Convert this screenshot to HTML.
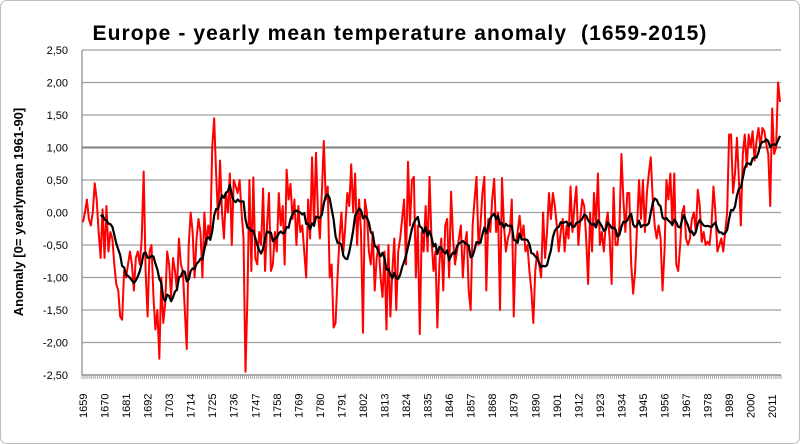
<!DOCTYPE html>
<html><head><meta charset="utf-8"><style>
body{margin:0;background:#fff}
svg{display:block;font-family:"Liberation Sans",sans-serif}
</style></head><body>
<svg id="chart" width="800" height="444" viewBox="0 0 800 444">
<rect x="0.5" y="0.5" width="799" height="443" rx="6" fill="#fff" stroke="#bdbdbd"/>
<text x="400" y="40" text-anchor="middle" font-size="21" font-weight="bold" letter-spacing="1.1" fill="#000">Europe - yearly mean temperature anomaly &#160;(1659-2015)</text>
<text transform="translate(23,212) rotate(-90)" text-anchor="middle" font-size="13" font-weight="bold" fill="#000">Anomaly [0= yearlymean 1961-90]</text>
<g id="grid"></g><g id="yticks"></g><g id="xticks"></g><g id="series"></g>
</svg>
<script>
const startYear = 1659;
const yTicks = [2.5,2,1.5,1,0.5,0,-0.5,-1,-1.5,-2,-2.5];
const yTickLabels = ["2,50","2,00","1,50","1,00","0,50","0,00","-0,50","-1,00","-1,50","-2,00","-2,50"];
const anomaly = [
-0.15,0.0,0.2,-0.1,-0.2,0.0,0.45,0.2,-0.3,-0.7,
0.05,-0.7,0.1,-0.6,-0.3,-0.4,-0.8,-1.1,-1.2,-1.6,
-1.65,-0.9,-1.0,-0.8,-0.6,-0.8,-1.2,-0.7,-0.6,-0.8,
-0.4,0.63,-0.9,-1.6,-0.6,-0.5,-1.3,-1.8,-1.5,-2.25,
-1.0,-1.7,-1.4,-0.6,-0.8,-1.3,-0.7,-0.9,-1.2,-0.4,
-0.8,-0.9,-1.5,-2.1,-0.5,0.0,-0.3,-1.0,-0.4,-0.1,
-0.3,-1.0,0.0,-0.5,-0.2,-0.4,1.0,1.45,0.6,-0.1,
0.8,0.0,-0.4,0.3,0.0,0.6,-0.5,0.5,0.4,0.3,
0.5,0.0,-0.4,-2.45,-1.3,0.5,-0.9,0.54,-0.7,-0.8,
-0.3,-0.5,0.37,-0.9,-0.2,0.3,-0.9,-0.8,-0.3,-0.6,
0.3,-0.2,0.1,-0.8,0.66,0.2,0.44,-0.1,0.2,-0.5,
0.1,-0.3,-0.2,-0.6,-1.0,0.2,-0.4,0.85,-0.2,0.92,
0.0,-0.4,0.3,1.1,0.2,0.4,-1.0,-0.8,-1.77,-1.7,
-1.0,-0.4,0.0,-0.6,-0.2,0.3,0.1,0.74,0.0,0.6,
-0.5,0.2,-0.3,-1.85,0.2,0.0,-0.6,-0.8,-0.3,-1.2,
-0.7,-0.5,-1.0,-1.3,-0.6,-1.8,-0.5,-1.6,-0.9,-0.4,
-1.5,-0.6,-0.4,-0.1,0.2,-0.8,0.78,-0.2,0.5,0.55,
-1.0,-0.2,-1.87,-0.3,-0.6,0.1,-0.6,0.55,-0.4,-0.9,
-0.6,-1.77,-0.8,-0.4,-1.2,-0.2,-0.1,-1.0,0.32,-0.4,
-0.8,-0.6,-0.4,-0.2,-1.0,-0.5,-0.3,-1.2,-1.5,-0.2,
0.2,0.55,-0.5,-0.2,0.3,0.55,-1.2,-0.1,-0.3,0.2,
0.52,-0.3,0.0,-1.5,0.53,-0.2,-0.6,-0.4,-0.3,0.2,
-1.6,-0.5,-0.3,-0.05,-0.4,-0.2,-0.6,-0.5,-0.9,-1.2,
-1.7,-0.9,-0.6,-0.8,-1.0,0.0,-0.7,-0.3,0.3,-0.1,
0.3,0.1,-0.2,-0.6,-0.3,-0.1,-0.6,-0.2,-0.4,0.4,
-0.3,0.1,0.4,-0.5,-0.1,0.2,0.1,-0.4,-1.1,0.0,
-0.6,0.3,-0.2,0.6,-0.5,-0.3,-0.6,-0.2,0.0,-0.4,
-1.1,0.38,-0.5,-0.5,-0.2,0.9,0.2,-0.3,0.3,0.3,
-0.8,-1.25,-0.9,-0.2,0.5,-0.1,0.5,-0.3,0.3,0.6,
0.85,0.2,-0.2,-0.4,-0.2,-0.4,-1.2,-0.6,0.5,0.2,
0.6,-0.2,0.6,-0.8,-0.9,-0.5,0.0,0.1,-0.4,-0.5,
-0.4,-0.1,0.0,-0.3,0.35,0.1,-0.45,-0.3,-0.5,-0.45,
-0.5,-0.2,0.4,0.0,-0.6,-0.5,-0.4,-0.6,-0.3,0.0,
1.2,1.2,0.3,0.6,1.15,0.5,-0.2,0.9,1.2,0.7,
1.2,1.0,1.25,0.8,1.1,1.3,1.0,1.3,1.25,1.05,
0.9,0.1,1.6,0.9,1.0,2.0,1.7
];
const maPeriod = 10;

const NS = "http://www.w3.org/2000/svg";
const plotL = 82, plotR = 781, plotT = 50, plotB = 375;
const n = anomaly.length;
const step = (plotR - plotL) / n;
const xPos = i => plotL + step * (i + 0.5);
const yPos = v => plotT + (2.5 - v) / 5 * (plotB - plotT);
function mk(tag, attrs, parent){ const e=document.createElementNS(NS,tag); for(const k in attrs) e.setAttribute(k,attrs[k]); parent.appendChild(e); return e; }

const grid = document.getElementById('grid');
const yt = document.getElementById('yticks');
yTicks.forEach((v,i)=>{
  const y = yPos(v);
  const gl = mk('line',{x1:plotL,x2:plotR,y1:y,y2:y,stroke:v===1?'#808080':'#a0a0a0','stroke-width':v===1?2:1.2},grid);
  
  
  const t = mk('text',{x:68,y:y+4,'text-anchor':'end','font-size':11,fill:'#000'},yt);
  t.textContent = yTickLabels[i];
  
  
});
const ax = mk('line',{x1:plotL,x2:plotL,y1:plotT,y2:plotB,stroke:'#888','stroke-width':1.2},grid);


const bx = mk('line',{x1:plotL,x2:plotR,y1:plotB,y2:plotB,stroke:'#888','stroke-width':1.2},grid);



const xt = document.getElementById('xticks');
for(let i=0;i<=n;i++){
  const x = plotL + step*i;
  const tk = mk('line',{x1:x,x2:x,y1:plotB,y2:plotB+4,stroke:'#999','stroke-width':0.8},xt);
  
  
}
for(let i=0;i<n;i+=11){
  const x = xPos(i);
  const t = mk('text',{transform:`translate(${x+4},${plotB+43}) rotate(-90)`,'font-size':11,fill:'#000'},xt);
  t.textContent = String(startYear+i);
  
  
}

const ser = document.getElementById('series');
const redPts = anomaly.map((v,i)=>xPos(i).toFixed(2)+','+yPos(v).toFixed(2)).join(' ');
const red = mk('polyline',{points:redPts,fill:'none',stroke:'#ff0000','stroke-width':2,'stroke-linejoin':'round'},ser);


const maPts = [];
for(let i=maPeriod-1;i<n;i++){
  let s=0; for(let j=i-maPeriod+1;j<=i;j++) s+=anomaly[j];
  maPts.push(xPos(i).toFixed(2)+','+yPos(s/maPeriod).toFixed(2));
}
const blk = mk('polyline',{points:maPts.join(' '),fill:'none',stroke:'#000','stroke-width':2.2,'stroke-linejoin':'round'},ser);


</script>
</body></html>
